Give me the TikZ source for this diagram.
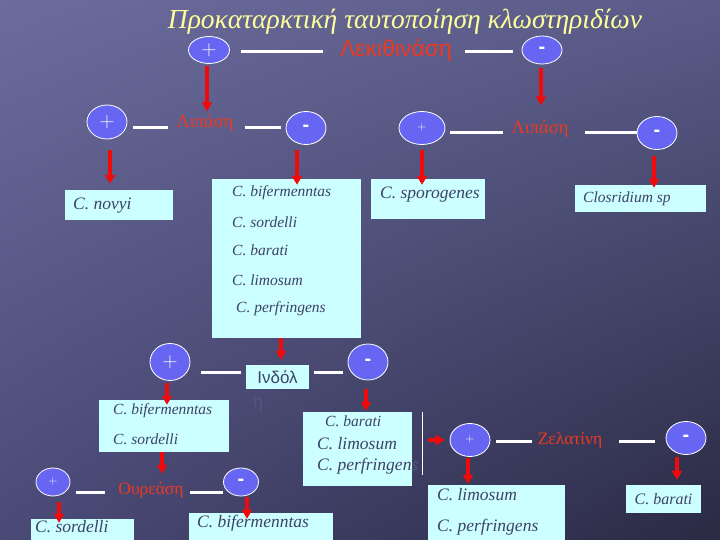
\documentclass[tikz,border=0pt]{standalone}
\usepackage{fontspec}
\setmainfont{Liberation Serif}
\newfontfamily\arialf{Liberation Sans}
\usetikzlibrary{shapes.geometric,arrows.meta,shadings}
\definecolor{bgTL}{HTML}{6B6C9C}
\definecolor{bgTR}{HTML}{5A5B88}
\definecolor{bgBL}{HTML}{4A4A78}
\definecolor{bgBR}{HTML}{2A2A44}
\definecolor{ellblue}{HTML}{6666F2}
\definecolor{boxcyan}{HTML}{CCFFFF}
\definecolor{boxtxt}{HTML}{3E4266}
\definecolor{enzred}{HTML}{EE3820}
\definecolor{arrred}{HTML}{F00A0A}
\definecolor{titley}{HTML}{FFFF99}
\definecolor{faint}{HTML}{565682}
\definecolor{spill}{HTML}{9A9CC0}
\begin{document}
\begin{tikzpicture}[x=1pt,y=-1pt,
  pm/.style={ellipse, draw=white, line width=0.8pt, fill=ellblue, text=white, inner sep=0pt},
  bigplus/.style={pm, font=\sffamily\fontsize{21}{21}\selectfont},
  smallplus/.style={pm, font=\sffamily\fontsize{12}{12}\selectfont},
  minussign/.style={pm, font=\arialf\bfseries\fontsize{20}{20}\selectfont},
  wline/.style={draw=white, line width=3pt},
  rarr/.style={draw=arrred, line width=3.5pt, -{Triangle[width=10pt,length=9pt]}},
  cbox/.style={fill=boxcyan, inner sep=0pt, draw=none},
  sp/.style={anchor=west, inner sep=0pt, text=boxtxt, font=\fontsize{15.5}{16}\selectfont\itshape},
  lp/.style={anchor=west, inner sep=0pt, text=boxtxt, font=\fontsize{17.5}{18}\selectfont\itshape},
  enz/.style={text=enzred, inner sep=0pt, font=\fontsize{17.5}{18}\selectfont},
]
% background
\shade[upper left=bgTL, upper right=bgTR, lower left=bgBL, lower right=bgBR] (0,0) rectangle (720,540);
\useasboundingbox (0,0) rectangle (720,540);

% title
\node[text=titley, font=\fontsize{27.5}{28}\selectfont\itshape, inner sep=0pt] (title) at (405,22) {Προκαταρκτική ταυτοποίηση κλωστηριδίων};

% row 1
\node[bigplus, minimum width=41pt, minimum height=27pt] (pA) at (209,50) {+};
\node[text=enzred, inner sep=0pt, font=\arialf\fontsize{23}{23}\selectfont] (lek) at (396,50) {Λεκιθινάση};
\node[minussign, minimum width=40pt, minimum height=28pt] (mA) at (542,50) {-};

% row 2 left
\node[bigplus, minimum width=40pt, minimum height=34pt] (pB) at (107,122) {+};
\node[enz, font=\fontsize{18.5}{19}\selectfont] (lipB) at (205,123) {Λιπάση};
\node[minussign, minimum width=40pt, minimum height=33pt] (mB) at (306,128) {-};

% row 2 right
\node[smallplus, minimum width=46pt, minimum height=33pt] (pC) at (422,128) {+};
\node[enz, font=\fontsize{18.5}{19}\selectfont] (lipC) at (540,129) {Λιπάση};
\node[minussign, minimum width=40pt, minimum height=33pt] (mC) at (657,133) {-};

% boxes row 2
\node[cbox, minimum width=108pt, minimum height=30pt] (novyi) at (119,205) {};
\node[lp] (tnovyi) at (73,206) {C. novyi};
\node[cbox, minimum width=149pt, minimum height=159pt] (big) at (286.5,258.5) {};
\node[sp] (tb1) at (232,193) {C. bifermenntas};
\node[sp] (tb2) at (232,222) {C. sordelli};
\node[sp] (tb3) at (232,250) {C. barati};
\node[sp] (tb4) at (232,280) {C. limosum};
\node[sp] (tb5) at (236,309) {C. perfringens};
\node[cbox, minimum width=114pt, minimum height=40pt] (sporo) at (428,199) {};
\node[lp] (tsporo) at (380,195) {C. sporogenes};
\node[cbox, minimum width=131pt, minimum height=27pt] (clos) at (640.5,198.5) {};
\node[sp] (tclos) at (583,199) {Closridium sp};

% row 3 (indole)
\node[bigplus, minimum width=40pt, minimum height=37pt] (pD) at (170,362) {+};
\node[cbox, minimum width=63pt, minimum height=24pt, text=boxtxt, font=\arialf\fontsize{17}{17}\selectfont] (indol) at (277.5,377) {Ινδόλ};
\node[text=faint, inner sep=0pt, font=\arialf\fontsize{17}{17}\selectfont] (eta) at (258,405) {η};
\node[minussign, minimum width=40pt, minimum height=36pt] (mD) at (368,362) {-};

\node[cbox, minimum width=130pt, minimum height=52pt] (box1) at (164,426) {};
\node[sp] (t11) at (113,411) {C. bifermenntas};
\node[sp] (t12) at (113,439) {C. sordelli};
\node[text=spill, anchor=west, inner sep=0pt, font=\fontsize{17.5}{18}\selectfont\itshape] (spillover) at (317,466) {C. perfringens};
\node[cbox, minimum width=109pt, minimum height=74pt] (box2) at (357.5,449) {};
\node[sp] (t21) at (325,421) {C. barati};
\node[lp] (t22) at (317,444) {C. limosum};
\node[lp] (t23) at (317,466) {C. perfringens};

% gelatin row
\node[smallplus, minimum width=40pt, minimum height=33pt] (pE) at (470,440) {+};
\node[enz] (zel) at (570,440) {Ζελατίνη};
\node[minussign, minimum width=40pt, minimum height=33pt] (mE) at (686,438) {-};
\node[cbox, minimum width=137pt, minimum height=60pt] (box3) at (496.5,515) {};
\node[lp] (t31) at (437,495) {C. limosum};
\node[lp] (t32) at (437,527) {C. perfringens};
\node[cbox, minimum width=75pt, minimum height=28pt, text=boxtxt, font=\fontsize{16}{16}\selectfont\itshape] (box4) at (663.5,499) {C. barati};

% urease row
\node[smallplus, minimum width=34pt, minimum height=28pt] (pF) at (53,482) {+};
\node[enz] (our) at (151,490) {Ουρεάση};
\node[minussign, minimum width=35pt, minimum height=28pt] (mF) at (241,482) {-};
\node[cbox, minimum width=103pt, minimum height=26pt] (box5) at (82.5,532) {};
\node[lp] (t5) at (35,527) {C. sordelli};
\node[cbox, minimum width=144pt, minimum height=32pt] (box6) at (261,529) {};
\node[lp] (t6) at (197,523) {C. bifermenntas};

% white connector lines
\draw[wline, shorten <=11.5pt, shorten >=17pt] (pA.east |- 0,52) -- (lek.west |- 0,52);
\draw[wline, shorten <=13pt, shorten >=9pt] (lek.east |- 0,52) -- (mA.west |- 0,52);
\draw[wline, shorten <=6pt, shorten >=8pt] (pB.east |- 0,128) -- (lipB.west |- 0,128);
\draw[wline, shorten <=11pt, shorten >=5pt] (lipB.east |- 0,128) -- (mB.west |- 0,128);
\draw[wline, shorten <=5pt, shorten >=8pt] (pC.east |- 0,133) -- (lipC.west |- 0,133);
\draw[wline, shorten <=16pt, shorten >=0pt] (lipC.east |- 0,133) -- (mC.west |- 0,133);
\draw[wline, shorten <=11pt, shorten >=5pt] (pD.east |- 0,372) -- (indol.west |- 0,372);
\draw[wline, shorten <=5pt, shorten >=5pt] (indol.east |- 0,372) -- (mD.west |- 0,372);
\draw[wline, shorten <=6pt, shorten >=6pt] (pE.east |- 0,441) -- (zel.west |- 0,441);
\draw[wline, shorten <=17pt, shorten >=11pt] (zel.east |- 0,441) -- (mE.west |- 0,441);
\draw[wline, shorten <=6pt, shorten >=13pt] (pF.east |- 0,492) -- (our.west |- 0,492);
\draw[wline, shorten <=6pt, shorten >=0pt] (our.east |- 0,492) -- (mF.west |- 0,492);
\draw[white, line width=1pt] ([xshift=10pt]box2.north east) -- ([xshift=10pt,yshift=11pt]box2.south east);

% red arrows
\draw[rarr, shorten <=2.5pt, shorten >=3pt] ([xshift=-2pt]pA.south) -- ([xshift=-2pt]pA.south |- lipB.north);
\draw[rarr, shorten <=4pt, shorten >=15pt] ([xshift=-1pt]mA.south) -- ([xshift=-1pt]mA.south |- lipC.north);
\draw[rarr, shorten <=11pt, shorten >=6pt] ([xshift=3pt]pB.south) -- ([xshift=3pt]pB.south |- novyi.north);
\draw[rarr, shorten <=5.5pt, shorten >=-6pt] ([xshift=-9pt]mB.south) -- ([xshift=-9pt]mB.south |- big.north);
\draw[rarr, shorten <=5.5pt, shorten >=-6pt] (pC.south) -- (pC.south |- sporo.north);
\draw[rarr, shorten <=6.5pt, shorten >=-3pt] ([xshift=-3pt]mC.south) -- ([xshift=-3pt]mC.south |- clos.north);
\draw[rarr, shorten >=5pt] ([xshift=-5.5pt]big.south) -- ([xshift=-5.5pt]big.south |- indol.north);
\draw[rarr, shorten <=2.5pt, shorten >=-5pt] ([xshift=-3pt]pD.south) -- ([xshift=-3pt]pD.south |- box1.north);
\draw[rarr, shorten <=9pt, shorten >=1pt] ([xshift=-2pt]mD.south) -- ([xshift=-2pt]mD.south |- box2.north);
\draw[rarr, shorten >=5pt] ([xshift=16pt]box2.east |- pE.west) -- (pE.west);
\draw[rarr, shorten <=1.5pt, shorten >=1pt] ([xshift=-2pt]pE.south) -- ([xshift=-2pt]pE.south |- box3.north);
\draw[rarr, shorten <=2.5pt, shorten >=5pt] ([xshift=-9pt]mE.south) -- ([xshift=-9pt]mE.south |- box4.north);
\draw[rarr, shorten >=8pt] ([xshift=-2pt]box1.south) -- ([xshift=-2pt]box1.south |- our.north);
\draw[rarr, shorten <=6pt, shorten >=-4pt] ([xshift=6pt]pF.south) -- ([xshift=6pt]pF.south |- box5.north);
\draw[rarr, shorten <=1pt, shorten >=-6pt] ([xshift=6pt]mF.south) -- ([xshift=6pt]mF.south |- box6.north);
\end{tikzpicture}
\end{document}
